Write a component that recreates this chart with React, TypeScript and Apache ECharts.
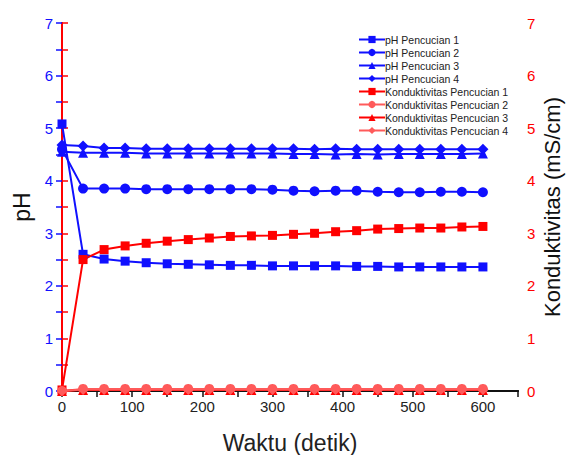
import React, { useEffect, useRef } from "react";
import * as echarts from "echarts";

const times = [0, 30, 60, 90, 120, 150, 180, 210, 240, 270, 300, 330, 360, 390, 420, 450, 480, 510, 540, 570, 600];
const ph1 = [5.08, 2.6, 2.51, 2.47, 2.44, 2.42, 2.41, 2.4, 2.39, 2.39, 2.38, 2.38, 2.38, 2.38, 2.37, 2.37, 2.36, 2.36, 2.36, 2.36, 2.36];
const ph2 = [4.6, 3.85, 3.85, 3.85, 3.84, 3.84, 3.84, 3.84, 3.84, 3.84, 3.83, 3.81, 3.8, 3.81, 3.81, 3.79, 3.78, 3.78, 3.79, 3.79, 3.78];
const ph3 = [4.55, 4.53, 4.53, 4.53, 4.52, 4.52, 4.52, 4.52, 4.52, 4.52, 4.52, 4.51, 4.51, 4.5, 4.51, 4.5, 4.51, 4.51, 4.51, 4.51, 4.52];
const ph4 = [4.68, 4.66, 4.62, 4.62, 4.61, 4.61, 4.61, 4.61, 4.61, 4.61, 4.61, 4.61, 4.6, 4.61, 4.6, 4.6, 4.6, 4.6, 4.6, 4.6, 4.6];
const k1 = [0.02, 2.5, 2.69, 2.76, 2.81, 2.85, 2.88, 2.91, 2.94, 2.95, 2.96, 2.98, 3.0, 3.03, 3.05, 3.08, 3.09, 3.1, 3.1, 3.12, 3.13];
const k2 = [0.0, 0.04, 0.04, 0.04, 0.04, 0.04, 0.04, 0.04, 0.04, 0.04, 0.04, 0.04, 0.04, 0.04, 0.04, 0.04, 0.04, 0.04, 0.04, 0.04, 0.04];
const k3 = [0.0, 0.02, 0.02, 0.02, 0.02, 0.02, 0.02, 0.02, 0.02, 0.02, 0.02, 0.02, 0.02, 0.02, 0.02, 0.02, 0.02, 0.02, 0.02, 0.02, 0.02];
const k4 = [0.0, 0.03, 0.03, 0.03, 0.03, 0.03, 0.03, 0.03, 0.03, 0.03, 0.03, 0.03, 0.03, 0.03, 0.03, 0.03, 0.03, 0.03, 0.03, 0.03, 0.03];

const seriesNames = [
  "pH Pencucian 1",
  "pH Pencucian 2",
  "pH Pencucian 3",
  "pH Pencucian 4",
  "Konduktivitas Pencucian 1",
  "Konduktivitas Pencucian 2",
  "Konduktivitas Pencucian 3",
  "Konduktivitas Pencucian 4",
];
const rightAxisTitle = "Konduktivitas (mS/cm)";

const FONT = "Liberation Sans, Arial, sans-serif";
const BLUE = "#1010ff";
const RED = "#ff0000";
const LRED = "#ff5a5a";

export default function App() {
  const ref = useRef<HTMLDivElement>(null);
  useEffect(() => {
    if (!ref.current) return;
    const chart = echarts.init(ref.current, undefined, { renderer: "svg" });
    const values = [ph1, ph2, ph3, ph4, k1, k2, k3, k4];
    const symbols = ["rect", "circle", "triangle", "diamond", "rect", "circle", "triangle", "diamond"];
    const sizes = [9, 10, 10, 11, 9, 10, 10, 11];
    const colors = [BLUE, BLUE, BLUE, BLUE, RED, LRED, RED, LRED];
    const series = values.map((vals, i) => ({
      name: seriesNames[i],
      type: "line",
      yAxisIndex: i < 4 ? 0 : 1,
      xAxisIndex: 0,
      data: vals.map((v, j) => [times[j], v]),
      symbol: symbols[i],
      symbolSize: sizes[i],
      showAllSymbol: true,
      color: colors[i],
      lineStyle: { width: 2, color: colors[i] },
      itemStyle: { color: colors[i] },
      z: 3,
    }));
    chart.setOption({
      animation: false,
      backgroundColor: "#fff",
      textStyle: { fontFamily: FONT },
      grid: { left: 62, right: 49, top: 23, bottom: 64, containLabel: false, outerBoundsMode: "none" },
      legend: {
        orient: "vertical",
        left: 353,
        top: 29,
        itemWidth: 26,
        itemHeight: 9,
        itemGap: 2,
        data: seriesNames,
        textStyle: { fontSize: 10.5, color: "#222", fontFamily: FONT, padding: [0, 0, 0, -5] },
      },
      graphic: [
        {
          type: "text",
          x: 552,
          y: 207,
          rotation: Math.PI / 2,
          style: {
            text: rightAxisTitle,
            font: `22px ${FONT}`,
            fill: "#111",
            align: "center",
            verticalAlign: "middle",
          },
        },
      ],
      xAxis: [
        {
          type: "value",
          min: 0,
          max: 650,
          interval: 50,
          position: "bottom",
          name: "Waktu (detik)",
          nameLocation: "middle",
          nameGap: 40,
          nameTextStyle: { fontSize: 23, color: "#222", fontFamily: FONT },
          axisLine: { show: true, lineStyle: { color: "#111", width: 2 } },
          axisTick: { show: true, inside: false, length: 6, lineStyle: { color: "#111", width: 1.5 } },
          axisLabel: {
            fontSize: 15,
            color: "#222",
            margin: 8,
            formatter: (v: number) => (v % 100 === 0 && v <= 600 ? String(v) : ""),
          },
          splitLine: { show: false },
        },
        {
          type: "value",
          min: 0,
          max: 650,
          position: "top",
          axisLine: { show: true, lineStyle: { color: "#111", width: 2 } },
          axisTick: { show: false },
          axisLabel: { show: false },
          splitLine: { show: false },
        },
      ],
      yAxis: [
        {
          type: "value",
          min: 0,
          max: 7,
          interval: 1,
          position: "left",
          name: "pH",
          nameLocation: "middle",
          nameGap: 25,
          nameTextStyle: { fontSize: 23, color: "#111", fontFamily: FONT },
          axisLine: { show: true, lineStyle: { color: BLUE, width: 2 } },
          axisTick: { show: true, length: 6, lineStyle: { color: BLUE, width: 1.5 } },
          minorTick: { show: true, splitNumber: 2, length: 6, lineStyle: { color: BLUE, width: 1.5 } },
          axisLabel: { fontSize: 15, color: BLUE, margin: 9 },
          splitLine: { show: false },
        },
        {
          type: "value",
          min: 0,
          max: 7,
          interval: 1,
          position: "right",
          axisLine: { show: true, lineStyle: { color: RED, width: 2 } },
          axisTick: { show: true, length: 6, lineStyle: { color: RED, width: 1.5 } },
          minorTick: { show: true, splitNumber: 2, length: 6, lineStyle: { color: RED, width: 1.5 } },
          axisLabel: { fontSize: 15, color: RED, margin: 9 },
          splitLine: { show: false },
        },
      ],
      series,
    });
    return () => chart.dispose();
  }, []);
  return <div ref={ref} style={{ position: "fixed", left: 0, top: 0, width: 567, height: 455 }} />;
}
